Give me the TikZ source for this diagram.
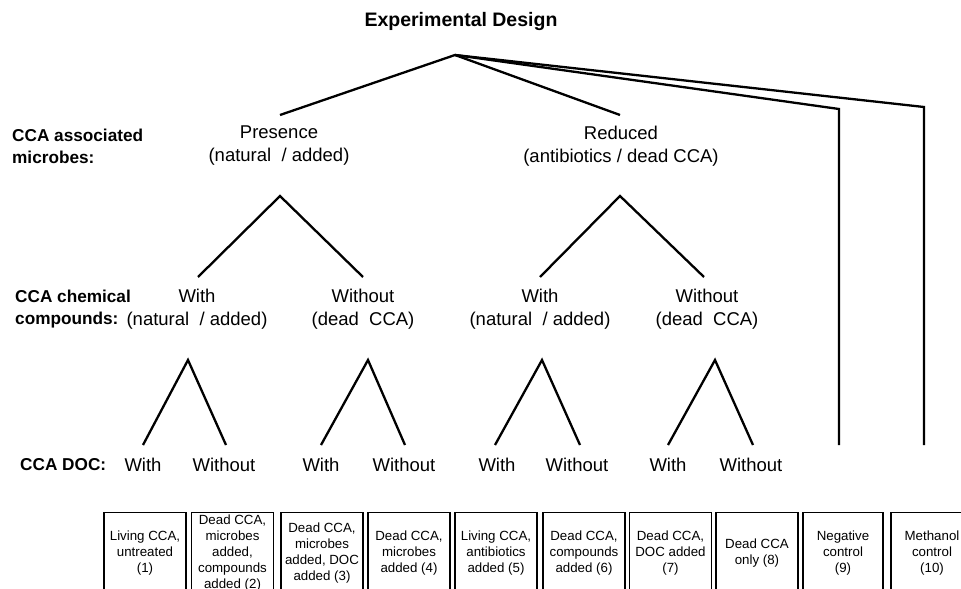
\documentclass[tikz,border=0pt]{standalone}
\usepackage{fontspec}
\setmainfont{Liberation Sans}
\begin{document}
\begin{tikzpicture}[x=1bp,y=-1bp,
  branch/.style={line width=2.3bp, line join=miter},
  lab/.style={font=\fontsize{18.5bp}{23bp}\selectfont, align=center, inner sep=0pt},
  side/.style={font=\fontsize{17.2bp}{22bp}\selectfont\bfseries, align=left, anchor=west, inner sep=0pt},
  box/.style={draw, line width=1.2bp, minimum width=82bp, minimum height=80bp, anchor=north,
    align=center, inner sep=1bp, font=\fontsize{13.3bp}{16bp}\selectfont}]
\useasboundingbox (0,0) rectangle (961,589);
\clip (0,0) rectangle (961,589);
% title
\node[font=\fontsize{19.5bp}{22bp}\selectfont\bfseries, inner sep=0pt] (title) at (461,22) {Experimental Design};
% side labels
\node[side] (s1) at (12,146) {CCA associated\\microbes:};
\node[side] (s2) at (15,309) {CCA chemical\\compounds:};
\node[side] (s3) at (20,465) {CCA DOC:};
% level 1 labels
\node[lab] (pres) at (279,146) {Presence\\(natural \ / added)};
\node[lab] (red) at (621,146) {Reduced\\(antibiotics / dead CCA)};
% level 2 labels
\node[lab] (pw) at (197,309) {With\\(natural \ / added)};
\node[lab] (pwo) at (363,309) {Without\\(dead \ CCA)};
\node[lab] (rw) at (540,309) {With\\(natural \ / added)};
\node[lab] (rwo) at (707,309) {Without\\(dead \ CCA)};
% level 3 labels
\node[lab] (d1) at (143,465) {With};
\node[lab] (d2) at (224,465) {Without};
\node[lab] (d3) at (321,465) {With};
\node[lab] (d4) at (404,465) {Without};
\node[lab] (d5) at (497,465) {With};
\node[lab] (d6) at (577,465) {Without};
\node[lab] (d7) at (668,465) {With};
\node[lab] (d8) at (751,465) {Without};
% coordinates
\coordinate (root) at (455,55);
\coordinate (presT) at (280,115);
\coordinate (redT) at (620,115);
\coordinate (c9T) at (839,109);
\coordinate (c9B) at (839,445);
\coordinate (c10T) at (924,107);
\coordinate (c10B) at (924,445);
\coordinate (presB) at (280,196);
\coordinate (redB) at (620,196);
\coordinate (pwT) at (198,277);
\coordinate (pwoT) at (363,277);
\coordinate (rwT) at (540,277);
\coordinate (rwoT) at (704,277);
\coordinate (pwB) at (188,360);
\coordinate (pwoB) at (368,360);
\coordinate (rwB) at (542,360);
\coordinate (rwoB) at (715,360);
\coordinate (d1T) at (143,445);
\coordinate (d2T) at (226,445);
\coordinate (d3T) at (321,445);
\coordinate (d4T) at (405,445);
\coordinate (d5T) at (495,445);
\coordinate (d6T) at (580,445);
\coordinate (d7T) at (668,445);
\coordinate (d8T) at (753,445);
% branches
\draw[branch] (presT) -- (root) -- (redT);
\draw[branch] (root) -- (c9T) -- (c9B);
\draw[branch] (root) -- (c10T) -- (c10B);
\draw[branch] (pwT) -- (presB) -- (pwoT);
\draw[branch] (rwT) -- (redB) -- (rwoT);
\draw[branch] (d1T) -- (pwB) -- (d2T);
\draw[branch] (d3T) -- (pwoB) -- (d4T);
\draw[branch] (d5T) -- (rwB) -- (d6T);
\draw[branch] (d7T) -- (rwoB) -- (d8T);
% boxes
\node[box] (b1) at (145,512) {Living CCA,\\untreated\\(1)};
\node[box] (b2) at (232.5,512) {Dead CCA,\\microbes\\added,\\compounds\\added (2)};
\node[box] (b3) at (322,512) {Dead CCA,\\microbes\\added, DOC\\added (3)};
\node[box] (b4) at (409,512) {Dead CCA,\\microbes\\added (4)};
\node[box] (b5) at (496,512) {Living CCA,\\antibiotics\\added (5)};
\node[box] (b6) at (584,512) {Dead CCA,\\compounds\\added (6)};
\node[box] (b7) at (670.5,512) {Dead CCA,\\DOC added\\(7)};
\node[box] (b8) at (757,512) {Dead CCA\\only (8)};
\node[box, minimum width=80bp] (b9) at (843,512) {Negative\\control\\(9)};
\node[box] (b10) at (932,512) {Methanol\\control\\(10)};
\end{tikzpicture}
\end{document}
